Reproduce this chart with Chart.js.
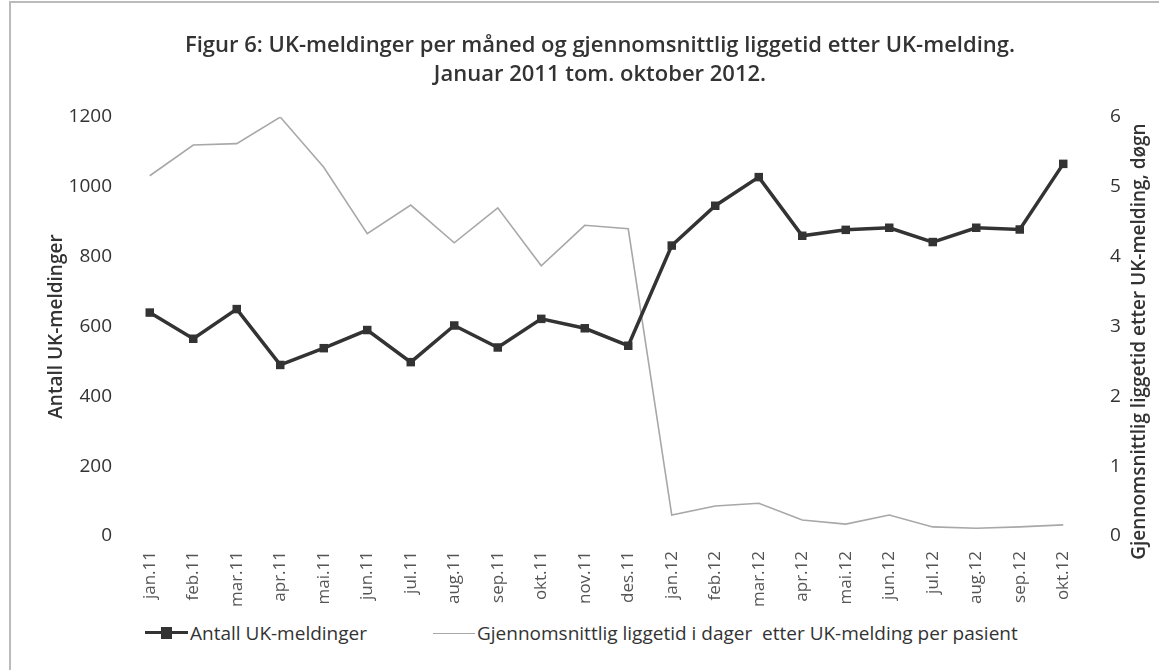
<!DOCTYPE html>
<html lang="no">
<head>
<meta charset="UTF-8">
<title>Figur 6: UK-meldinger</title>
<script src="https://cdn.jsdelivr.net/npm/chart.js"></script>
<style>
  body { margin: 0; background: #fff; font-family: "Open Sans", sans-serif; }
  #frame { position: absolute; left: 9px; top: 1px; width: 1150px; height: 669px;
           border-top: 2px solid #bbb; border-left: 2px solid #bbb; }
  #wrap { position: absolute; left: 0; top: 0; width: 1159px; height: 612px; }
  .item { position: absolute; top: 620px; display: flex; align-items: center;
          font-size: 19px; color: #333; white-space: pre; }
  .sym { position: relative; height: 12px; margin-right: 2px; }
  .sym .ln { position: absolute; left: 0; right: 0; top: 50%; }
  .sym .pt { position: absolute; left: 16px; top: 0; width: 11px; height: 12px; background: #333; }
</style>
</head>
<body>
<div id="frame"></div>
<div id="wrap"><canvas id="chart"></canvas></div>
<div id="legend"></div>
<script>
// categories
const months = ['jan.11','feb.11','mar.11','apr.11','mai.11','jun.11','jul.11','aug.11','sep.11','okt.11','nov.11','des.11',
                'jan.12','feb.12','mar.12','apr.12','mai.12','jun.12','jul.12','aug.12','sep.12','okt.12'];
// Antall UK-meldinger (left axis)
const ukMeldinger = [640, 565, 650, 490, 538, 590, 498, 603, 540, 622, 595, 545,
                     832, 946, 1028, 860, 877, 883, 842, 883, 878, 1066];
// Gjennomsnittlig liggetid i dager (right axis)
const liggetid = [5.16, 5.6, 5.62, 6.0, 5.28, 4.33, 4.74, 4.2, 4.7, 3.87, 4.45, 4.4,
                  0.3, 0.43, 0.47, 0.23, 0.17, 0.3, 0.13, 0.11, 0.13, 0.16];
const leftTicks = [0, 200, 400, 600, 800, 1000, 1200];
const rightTicks = [0, 1, 2, 3, 4, 5, 6];

const label1 = 'Antall UK-meldinger';
const label2 = 'Gjennomsnittlig liggetid i dager  etter UK-melding per pasient';
const rightTitle = 'Gjennomsnittlig liggetid etter UK-melding, døgn';
const fontFam = '"Open Sans", sans-serif';

// right axis title reads bottom-to-top, so draw it ourselves
const rightTitlePlugin = {
  id: 'rightTitle',
  afterDraw(chart) {
    const ctx = chart.ctx;
    const a = chart.chartArea;
    ctx.save();
    ctx.translate(1140, (a.top + a.bottom) / 2 + 15);
    ctx.rotate(-Math.PI / 2);
    ctx.font = '600 19px ' + fontFam;
    ctx.fillStyle = '#333';
    ctx.textAlign = 'center';
    ctx.textBaseline = 'middle';
    ctx.fillText(rightTitle, 0, 0);
    ctx.restore();
  }
};

new Chart(document.getElementById('chart'), {
  type: 'line',
  data: {
    labels: months,
    datasets: [
      {
        label: label1,
        data: ukMeldinger,
        yAxisID: 'y',
        borderColor: '#333',
        backgroundColor: '#333',
        borderWidth: 3.5,
        pointStyle: 'rect',
        pointRadius: 6,
        pointBorderWidth: 0,
        tension: 0,
        order: 1
      },
      {
        label: label2,
        data: liggetid,
        yAxisID: 'y1',
        borderColor: '#a8a8a8',
        backgroundColor: '#a8a8a8',
        borderWidth: 1.6,
        pointRadius: 0,
        tension: 0,
        order: 2
      }
    ]
  },
  plugins: [rightTitlePlugin],
  options: {
    responsive: true,
    maintainAspectRatio: false,
    animation: false,
    layout: { padding: { left: 41, right: 0, top: 0, bottom: 0 } },
    plugins: {
      legend: { display: false },
      tooltip: { enabled: false },
      title: {
        display: true,
        text: ['Figur 6: UK-meldinger per måned og gjennomsnittlig liggetid etter UK-melding.',
               'Januar 2011 tom. oktober 2012.'],
        color: '#333',
        font: { family: fontFam, size: 22, weight: '600', lineHeight: 1.32 },
        padding: { top: 31, bottom: 28 }
      }
    },
    scales: {
      x: {
        offset: true,
        grid: { display: false },
        border: { display: false },
        afterFit: s => { s.height = 76; },
        ticks: { color: '#555', minRotation: 90, maxRotation: 90, autoSkip: false, padding: 7,
                 font: { family: fontFam, size: 17 } }
      },
      y: {
        position: 'left',
        min: 0, max: 1200,
        afterBuildTicks: s => { s.ticks = leftTicks.map(v => ({ value: v })); },
        afterFit: s => { s.width = 87; },
        grid: { display: false },
        border: { display: false },
        ticks: { color: '#333', padding: 8, font: { family: fontFam, size: 19 },
                 callback: v => String(v) },
        title: { display: true, text: label1, color: '#333',
                 font: { family: fontFam, size: 19, weight: '600' } }
      },
      y1: {
        position: 'right',
        min: 0, max: 6,
        afterBuildTicks: s => { s.ticks = rightTicks.map(v => ({ value: v })); },
        afterFit: s => { s.width = 74; },
        grid: { display: false },
        border: { display: false },
        ticks: { color: '#333', padding: 17, font: { family: fontFam, size: 19 },
                 callback: v => String(v) }
      }
    }
  }
});

// legend below the chart
document.getElementById('legend').innerHTML =
  '<div class="item" style="left:145px"><div class="sym" style="width:43px"><div class="ln" style="border-top:3.5px solid #333;margin-top:-2px"></div><div class="pt"></div></div>' + label1 + '</div>' +
  '<div class="item" style="left:433px"><div class="sym" style="width:42px"><div class="ln" style="border-top:1.6px solid #a8a8a8"></div></div>' + label2 + '</div>';
</script>
</body>
</html>
